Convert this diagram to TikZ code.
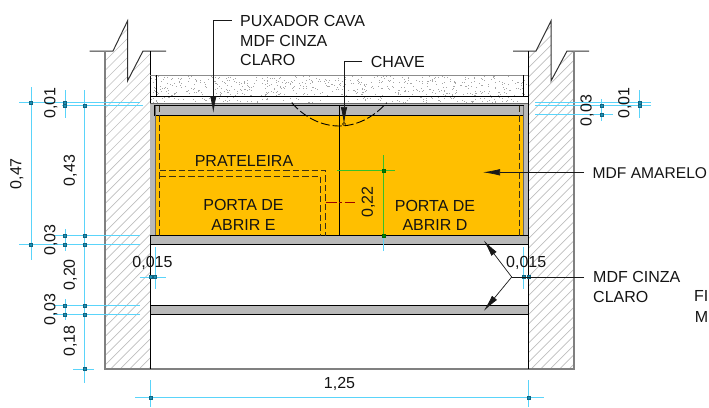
\documentclass[tikz,border=0pt]{standalone}
\usepackage{fontspec}
\setmainfont{Liberation Sans}
\usetikzlibrary{arrows.meta}
\definecolor{mdfamarelo}{HTML}{FFBF00}
\definecolor{mdfcinza}{HTML}{B9B9B9}
\definecolor{wallgray}{HTML}{808080}
\definecolor{hatchgray}{HTML}{BEBEBE}
\definecolor{dimblue}{HTML}{5AD4FA}
\definecolor{tickblue}{HTML}{1A8FB5}
\definecolor{dimgreen}{HTML}{35C02A}
\definecolor{hiddenline}{HTML}{3A3015}
\tikzset{
  label/.style={inner sep=0pt, text height=11.5pt, text depth=0pt, font=\fontsize{16pt}{19pt}\selectfont, text=black!92},
  dimlabel/.style={label, rotate=90},
  dimline/.style={draw=dimblue, line width=1pt},
  leader/.style={draw=black!90, line width=0.7pt},
  hidden/.style={draw=hiddenline, line width=0.9pt, dash pattern=on 6.5pt off 3pt},
  panel/.style={draw=black, line width=0.9pt, fill=mdfcinza},
  leadertip/.style={-{Latex[length=17pt,width=6.5pt]}},
}
\newcommand{\dimtick}[2]{\draw[draw=tickblue!70!black, fill=tickblue, line width=0.4pt] (#1-1.6,#2-1.6) rectangle (#1+1.6,#2+1.6);}
\begin{document}
\begin{tikzpicture}[x=1pt,y=-1pt]%
\useasboundingbox (0,0) rectangle (709,407);%
% walls
\begin{scope}%
\clip (105,51) -- (113,51) -- (127.5,21) -- (127.5,81) -- (143,51) -- (150,51) -- (150,369) -- (105,369) -- cycle;%
\foreach \hx in {-260,-250.5,...,160} {\draw[hatchgray, line width=0.7pt] (\hx,369) -- (\hx+350,19);}%
\end{scope}%
\begin{scope}%
\clip (528.3,51) -- (536,51) -- (551,21) -- (551,81) -- (567,51) -- (574,51) -- (574,369) -- (528.3,369) -- cycle;%
\foreach \hx in {170,179.5,...,580} {\draw[hatchgray, line width=0.7pt] (\hx,369) -- (\hx+350,19);}%
\end{scope}%
\draw[black!80, line width=1pt] (89.5,51) -- (113,51) -- (127.5,21) -- (127.5,81) -- (143,51) -- (166,51);%
\draw[black!80, line width=1pt] (513,51) -- (536,51) -- (551,21) -- (551,81) -- (567,51) -- (589,51);%
\draw[wallgray, line width=1.2pt] (105,51) -- (105,369) -- (574,369) -- (574,51);%
\draw[black, line width=0.8pt] (150,51) -- (150,369);%
\draw[black, line width=0.8pt] (528.3,51) -- (528.3,369);%
% speckled slab
\pgfmathsetseed{11}%
\foreach \i in {1,...,700} {\pgfmathsetmacro{\px}{151+376*rnd}\pgfmathsetmacro{\py}{76+26*rnd}\fill[black!35] (\px,\py) rectangle (\px+1,\py+0.8);}%
\draw[black!45, line width=0.9pt] (150,75) -- (528.3,75);%
\draw[black, line width=0.6pt] (150,96.5) -- (528.3,96.5);%
\draw[black, line width=0.6pt] (156.5,75) -- (156.5,96.5);%
\draw[black, line width=0.6pt] (523,75) -- (523,96.5);%
% door panel
\fill[mdfcinza] (150.4,102.5) rectangle (528,236);%
\fill[mdfamarelo] (155,115) rectangle (523.5,236);%
\draw[black!60, line width=0.9pt] (150,103) -- (528.3,103);%
\draw[panel] (154.5,105.5) rectangle (523.5,115);%
\draw[black!60, line width=0.8pt] (155,105.5) -- (155,236);%
\draw[black!60, line width=0.8pt] (523.5,105.5) -- (523.5,236);%
\draw[black, line width=0.8pt] (339.5,105.5) -- (339.5,236);%
% shelves
\draw[panel] (150,235.5) rectangle (528.3,244.5);%
\draw[panel] (150,305.3) rectangle (528.3,314.3);%
% hidden lines
\draw[hidden] (159.5,105.5) -- (159.5,236);%
\draw[hidden] (519.7,105.5) -- (519.7,236);%
\draw[hidden] (159.5,170.5) -- (325.7,170.5) -- (325.7,236);%
\draw[hidden] (159.5,176) -- (320.3,176) -- (320.3,236);%
\draw[hidden, draw=black, dash pattern=on 9pt off 3pt] (291.7,102.7) .. controls (305,118) and (322,126) .. (339.2,126) .. controls (356,126) and (373,118) .. (386.7,102.7);%
\draw[draw=red!60!black, line width=0.8pt, dash pattern=on 11pt off 2.5pt on 3pt off 2.5pt] (325.7,202.3) -- (355,202.3);%
% dimensions left
\draw[dimline] (31,87) -- (31,260);%
\draw[dimline] (65,90) -- (65,118);%
\draw[dimline] (65,229) -- (65,250.7);%
\draw[dimline] (65,299) -- (65,320);%
\draw[dimline] (84.7,90) -- (84.7,383);%
\draw[dimline] (19,102.5) -- (140,102.5);%
\draw[dimline] (62,105.5) -- (143,105.5);%
\draw[dimline] (53,235.3) -- (140,235.3);%
\draw[dimline] (19,244.3) -- (140,244.3);%
\draw[dimline] (53,305.3) -- (140,305.3);%
\draw[dimline] (53,314.3) -- (140,314.3);%
\draw[dimline] (73,369) -- (94,369);%
\draw[dimline] (139.7,277) -- (165.7,277);%
\draw[dimline] (155,247) -- (155,288.7);%
% dimensions right
\draw[dimline] (515,277) -- (540,277);%
\draw[dimline] (523.7,247) -- (523.7,288.7);%
\draw[dimline] (535,102.5) -- (650.7,102.5);%
\draw[dimline] (535,105.5) -- (650.7,105.5);%
\draw[dimline] (535,114.5) -- (613,114.5);%
\draw[dimline] (601.7,99) -- (601.7,120.7);%
\draw[dimline] (639.3,90) -- (639.3,117.7);%
% dimension bottom
\draw[dimline] (135,397.7) -- (544,397.7);%
\draw[dimline] (150.3,380) -- (150.3,407);%
\draw[dimline] (528.3,380) -- (528.3,407);%
% dimension inside
\draw[dimline] (383.3,236) -- (383.3,250.7);%
\draw[draw=dimgreen, line width=0.9pt] (383.3,155) -- (383.3,236);%
\draw[draw=dimgreen, line width=0.9pt] (337,170.3) -- (395.3,170.3);%
\foreach \ty in {102.5,244.3} {\dimtick{31}{\ty}}%
\foreach \ty in {102.5,105.5,235.3,244.3,305.3,314.3} {\dimtick{65}{\ty}}%
\foreach \ty in {105.5,235.3,244.3,305.3,314.3,369} {\dimtick{84.7}{\ty}}%
\foreach \tx in {150.3,155,523.7,528.7} {\dimtick{\tx}{277}}%
\foreach \ty in {105.5,114.5} {\dimtick{601.7}{\ty}}%
\foreach \ty in {102.5,105.5} {\dimtick{639.3}{\ty}}%
\foreach \tx in {150.3,528.3} {\dimtick{\tx}{397.7}}%
\foreach \ty in {170.3,235.5} {\draw[draw=green!40!black, fill=green!50!black, line width=0.4pt] (383.3-1.6,\ty-1.6) rectangle (383.3+1.6,\ty+1.6);}%
% labels
\node[label, anchor=west] (puxador) at (240,20.7) {PUXADOR CAVA};%
\node[label, anchor=west] (puxadormdf) at (240,40.7) {MDF CINZA};%
\node[label, anchor=west] (puxadorclaro) at (240,60) {CLARO};%
\node[label, anchor=west] (chave) at (370.7,62) {CHAVE};%
\node[label, anchor=west, font=\fontsize{15.6pt}{19pt}\selectfont] (amarelo) at (592.5,172.3) {MDF AMARELO};%
\node[label, anchor=west] (cinza) at (593,277) {MDF CINZA};%
\node[label, anchor=west] (claro) at (593,296.5) {CLARO};%
\node[label, anchor=east] (fixa) at (708.5,296) {FI};%
\node[label, anchor=east] (fixam) at (708.5,316.7) {M};%
\node[label] (prateleira) at (244,161) {PRATELEIRA};%
\node[label] (portae) at (243.5,205) {PORTA DE};%
\node[label] (abrire) at (243.5,224.3) {ABRIR E};%
\node[label] (portad) at (435,205.5) {PORTA DE};%
\node[label] (abrird) at (435,224.3) {ABRIR D};%
\node[label] (largura) at (339.5,383) {1,25};%
\node[label] (folgae) at (152.5,261.7) {0,015};%
\node[label] (folgad) at (526.2,261.7) {0,015};%
\node[dimlabel] (alt47) at (15.5,173.7) {0,47};%
\node[dimlabel] (alt01e) at (49.5,103) {0,01};%
\node[dimlabel] (alt43) at (69,170.5) {0,43};%
\node[dimlabel] (alt03e) at (49.5,240) {0,03};%
\node[dimlabel] (alt20) at (69,274.7) {0,20};%
\node[dimlabel] (alt03p) at (49.5,309.5) {0,03};%
\node[dimlabel] (alt18) at (69,341) {0,18};%
\node[dimlabel] (alt22) at (367.2,202.3) {0,22};%
\node[dimlabel] (alt03d) at (585.8,110.5) {0,03};%
\node[dimlabel] (alt01d) at (623.5,103.3) {0,01};%
% leaders
\coordinate (puxadorend) at (231.7,20.5);%
\coordinate (puxadortip) at (213.3,113);%
\coordinate (chaveend) at (362.3,61.7);%
\coordinate (chavetip) at (344,124);%
\coordinate (amareloend) at (584,172.3);%
\coordinate (amarelotip) at (483,172.3);%
\coordinate (cinzaend) at (584,277);%
\coordinate (cinzaknee) at (511.7,277);%
\coordinate (cinzatipa) at (483.7,240.3);%
\coordinate (cinzatipb) at (483.7,311);%
\draw[leader, leadertip] (puxadorend) -| (puxadortip);%
\draw[leader, leadertip] (chaveend) -| (chavetip);%
\draw[leader, leadertip] (amareloend) -- (amarelotip);%
\draw[leader] (cinzaend) -- (cinzaknee);%
\draw[leader, leadertip] (cinzaknee) -- (cinzatipa);%
\draw[leader, leadertip] (cinzaknee) -- (cinzatipb);%
\draw[black, line width=0.5pt] (chavetip) circle (1.6pt);%
\end{tikzpicture}
\end{document}
